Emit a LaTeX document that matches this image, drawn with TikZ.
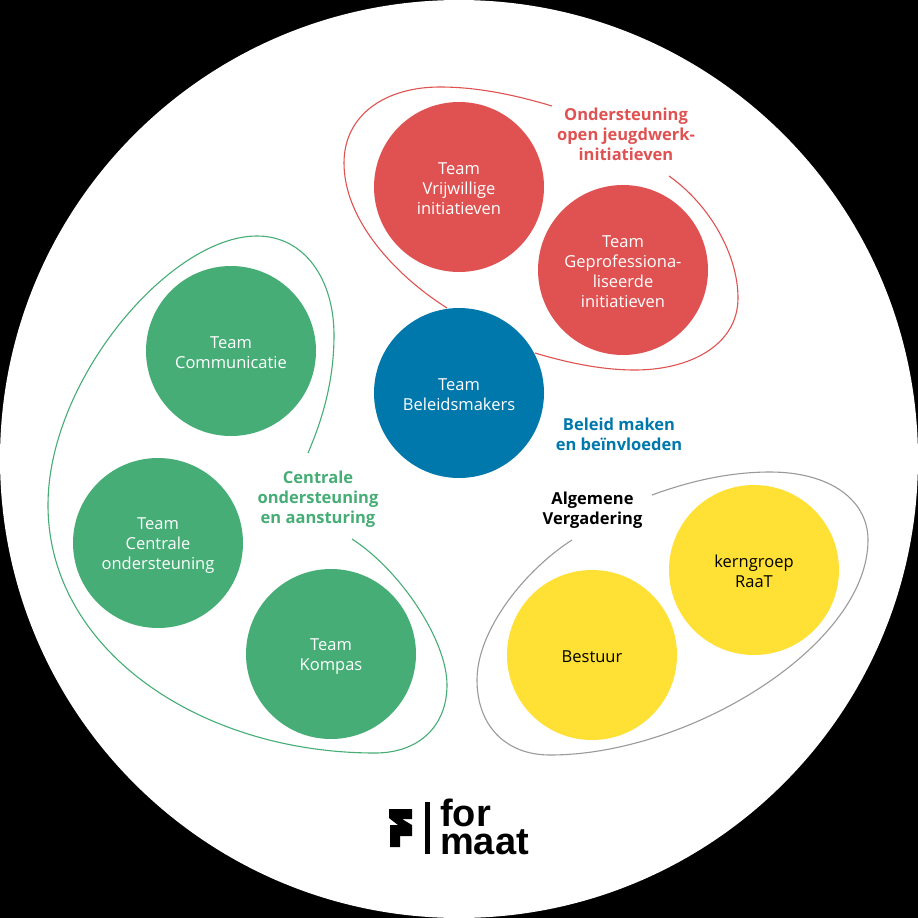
\documentclass[tikz,border=0pt]{standalone}
\usepackage{fontspec}
\setmainfont{Open Sans}
\newfontfamily\logofont{Liberation Sans}
\definecolor{cred}{HTML}{E05252}
\definecolor{cgreen}{HTML}{45AD75}
\definecolor{cblue}{HTML}{0078AB}
\definecolor{cyellow}{HTML}{FFE035}
\definecolor{cgray}{HTML}{9A9A9A}
\newcommand{\topgap}{\rule{0pt}{16pt}}
\tikzset{
 team/.style={circle,minimum size=170pt,inner sep=0pt,align=center,font=\fontsize{16.5}{20}\selectfont},
 redteam/.style={team,fill=cred,text=white},
 greenteam/.style={team,fill=cgreen,text=white},
 blueteam/.style={team,fill=cblue,text=white},
 yellowteam/.style={team,fill=cyellow,text=black},
 grouplabel/.style={align=center,font=\fontsize{16.5}{20}\selectfont\bfseries},
 loopline/.style={line width=1.1pt},
 logotext/.style={anchor=base west,inner sep=0pt,font=\logofont\fontsize{38}{38}\selectfont\bfseries}
}
\begin{document}
\begin{tikzpicture}[x=1pt,y=-1pt]
\useasboundingbox (0,0) rectangle (918,918);
\fill[black] (0,0) rectangle (918,918);
\fill[white] (459,459) circle (459);
\node[redteam] (vrij) at (459,187) {\topgap Team\\Vrijwillige\\initiatieven};
\node[redteam] (gepro) at (623,270) {\topgap Team\\Geprofessiona-\\liseerde\\initiatieven};
\node[blueteam] (bel) at (459,393) {\topgap Team\\Beleidsmakers};
\node[greenteam] (comm) at (231,351) {\topgap Team\\Communicatie};
\node[greenteam] (cent) at (158,543) {\topgap Team\\Centrale\\ondersteuning};
\node[greenteam] (komp) at (331,654) {\topgap Team\\Kompas};
\node[yellowteam] (best) at (592,655) {\topgap Bestuur};
\node[yellowteam] (kern) at (754,570) {\topgap kerngroep\\RaaT};
\node[grouplabel,text=cred] (lred) at (626,134) {Ondersteuning\\open jeugdwerk-\\initiatieven};
\node[grouplabel,text=cblue] (lblue) at (619,434) {Beleid maken\\en beïnvloeden};
\node[grouplabel,text=cgreen] (lgreen) at (318,499) {Centrale\\ondersteuning\\en aansturing};
\node[grouplabel,text=black] (lblack) at (592.5,510) {Algemene\\Vergadering};
\draw[loopline,cred] (552,106) .. controls (515,95) and (478,87) .. (440,87) .. controls (385,87) and (344,115) .. (344,163) .. controls (344,220) and (395,275) .. (447,308);
\draw[loopline,cred] (669,176) .. controls (710,205) and (738,255) .. (738,298) .. controls (738,345) and (690,370) .. (635,370) .. controls (600,370) and (565,362) .. (535,353);
\draw[loopline,cgreen] (308,453) .. controls (323,418) and (334,380) .. (334,335) .. controls (334,280) and (305,236) .. (257,236) .. controls (170,236) and (48,380) .. (48,505) .. controls (48,650) and (200,753) .. (375,753) .. controls (420,753) and (447,725) .. (447,685) .. controls (447,640) and (400,570) .. (352,539);
\draw[loopline,cgray] (652,495) .. controls (690,481) and (730,472) .. (770,472) .. controls (830,472) and (868,500) .. (868,540) .. controls (868,645) and (690,755) .. (550,755) .. controls (505,755) and (477,725) .. (477,680) .. controls (477,630) and (525,570) .. (572,540);
% logo
\fill[black] (389,809) -- (412,809) -- (412,819) -- (402,819) -- (412,825) -- (412,836) -- (400,836) -- (400,847) -- (390,847) -- (390,825) -- (398,825) -- (389,818) -- cycle;
\fill[black] (425,802) rectangle (430,854);
\node[logotext] (lf) at (440,826) {for};
\node[logotext] (lm) at (440,854) {\smash{maat}};
\end{tikzpicture}
\end{document}
